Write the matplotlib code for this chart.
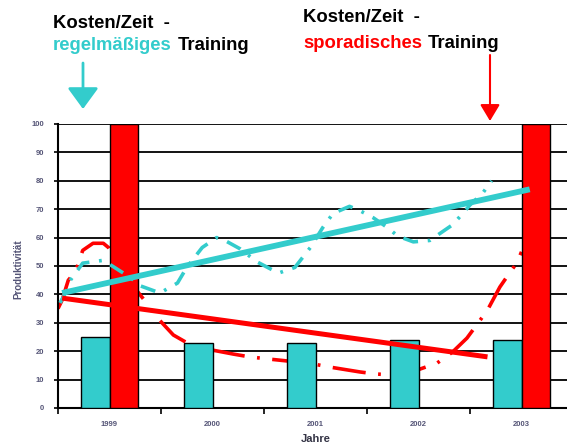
import numpy as np
import matplotlib
matplotlib.use("Agg")
import matplotlib.pyplot as plt

plt.rcParams['font.family'] = ['Liberation Sans', 'DejaVu Sans']
plt.rcParams['lines.scale_dashes'] = False

# Data
years = ['1999', '2000', '2001', '2002', '2003']
regular = [25, 23, 23, 24, 24]          # cyan bars
sporadic = [100, 0, 0, 0, 100]          # red bars

# trend lines (start / end, x in category units)
cyan_trend_x = [-0.46, 4.08]
cyan_trend_y = [40.5, 77]
red_trend_x = [-0.46, 3.67]
red_trend_y = [38.7, 18]

# wavy curves
cyan_x = [-0.48, -0.42, -0.38, -0.26, -0.06, 0.07, 0.20, 0.30, 0.49, 0.66, 0.75,
          0.90, 1.04, 1.12, 1.27, 1.43, 1.64, 1.80, 1.95, 2.07, 2.17, 2.33,
          2.43, 2.56, 2.70, 2.80, 2.95, 3.11, 3.21, 3.33, 3.43, 3.50, 3.62, 3.71]
cyan_y = [37, 41, 45, 51, 52, 49, 46, 43, 40.5, 44, 49.5,
          56.5, 60, 59, 56, 51.5, 47.5, 49.5, 56.5, 63.5, 68.5, 71,
          69.5, 67, 63.5, 60.5, 58.5, 59, 61.5, 64.5, 68.5, 71.5, 75.5, 80]

red_x = [-0.5, -0.46, -0.40, -0.33, -0.26, -0.16, -0.06, -0.01, 0.14, 0.36, 0.42,
         0.62, 0.75, 0.91, 1.20, 1.36, 1.53, 1.82, 1.98, 2.14, 2.43, 2.58,
         2.75, 2.99, 3.18, 3.33, 3.47, 3.58, 3.67, 3.79, 3.87, 3.96, 4.0]
red_y = [35, 38, 45, 48, 55.5, 58, 58, 56.5, 47, 37, 33.5,
         25.7, 23, 21, 19, 18, 17.3, 16.2, 15.5, 14.4, 12.7, 12,
         11.6, 13.4, 15.8, 19.7, 24.6, 30, 34.5, 42.6, 46.8, 51.4, 55]

cyan = '#33CCCC'
red = '#FF0000'
label_col = '#555577'

fig = plt.figure(figsize=(5.67, 4.47), dpi=100)
ax = fig.add_axes([58 / 567, 1 - 408 / 447, 515 / 567, 284 / 447])

x = np.arange(len(years))
w = 0.28
ax.bar(x - w / 2, regular, w, color=cyan, edgecolor='black', linewidth=1, zorder=3)
ax.bar(x + w / 2, sporadic, w, color=red, edgecolor='black', linewidth=1, zorder=3)

ax.plot(red_x, red_y, color=red, lw=2.6, dashes=(24, 9, 2, 9), zorder=2.5)
ax.plot(cyan_x, cyan_y, color=cyan, lw=2.6, dashes=(11, 7, 2, 7), zorder=4)
ax.plot(cyan_trend_x, cyan_trend_y, color=cyan, lw=4.2, solid_capstyle='butt', zorder=5)
ax.plot(red_trend_x, red_trend_y, color=red, lw=3.6, solid_capstyle='butt', zorder=5)

ax.set_xlim(-0.5, 4.5)
ax.set_ylim(0, 100)
ax.set_yticks(range(0, 101, 10))
ax.yaxis.grid(True, color='black', lw=1.3, zorder=0)
ax.set_axisbelow(True)
ax.set_xticks(x)
ax.set_xticklabels(years, fontweight='bold')
ax.set_yticklabels([str(v) for v in range(0, 101, 10)], fontweight='bold')
ax.set_xticks(np.arange(-0.5, 4.6, 1), minor=True)
ax.tick_params(axis='x', which='major', length=0, labelsize=5.5, labelcolor=label_col, pad=9)
ax.tick_params(axis='x', which='minor', length=4, width=1.2, direction='out')
ax.tick_params(axis='y', length=3, width=1.2, labelsize=5.5, labelcolor=label_col, pad=7)
for s in ['top', 'right']:
    ax.spines[s].set_visible(False)
ax.spines['left'].set_linewidth(1.5)
ax.spines['bottom'].set_linewidth(1.5)

ax.set_xlabel('Jahre', fontsize=8, fontweight='bold', color='#333344', labelpad=5)
fig.text(18 / 567, 1 - 269 / 447, 'Produktivität', rotation=90, fontsize=7,
         fontweight='bold', color=label_col, ha='center', va='center')

# headings
fs = 13.3
fig.text(53 / 567, 1 - 23 / 447, 'Kosten/Zeit  -', fontsize=fs, fontweight='bold',
         ha='left', va='center')
fig.text(53 / 567, 1 - 46 / 447, 'regelmäßiges', fontsize=fs, fontweight='bold',
         color=cyan, ha='left', va='center')
fig.text(178 / 567, 1 - 46 / 447, 'Training', fontsize=fs, fontweight='bold',
         ha='left', va='center')
fig.text(303 / 567, 1 - 18 / 447, 'Kosten/Zeit  -', fontsize=fs, fontweight='bold',
         ha='left', va='center')
fig.text(303 / 567, 1 - 43 / 447, 'sporadisches', fontsize=fs, fontweight='bold',
         color=red, ha='left', va='center')
fig.text(428 / 567, 1 - 43 / 447, 'Training', fontsize=fs, fontweight='bold',
         ha='left', va='center')

fig.add_artist(matplotlib.patches.FancyArrowPatch(
    (83, 447 - 63), (83, 447 - 109), transform=None,
    arrowstyle='-|>,head_length=1.3,head_width=0.95', mutation_scale=10,
    color=cyan, lw=2, shrinkA=0, shrinkB=0))
fig.add_artist(matplotlib.patches.FancyArrowPatch(
    (490, 447 - 55), (490, 447 - 121), transform=None,
    arrowstyle='-|>,head_length=1.0,head_width=0.6', mutation_scale=10,
    color=red, lw=1.5, shrinkA=0, shrinkB=0))

fig.savefig('out.png', dpi=100)
